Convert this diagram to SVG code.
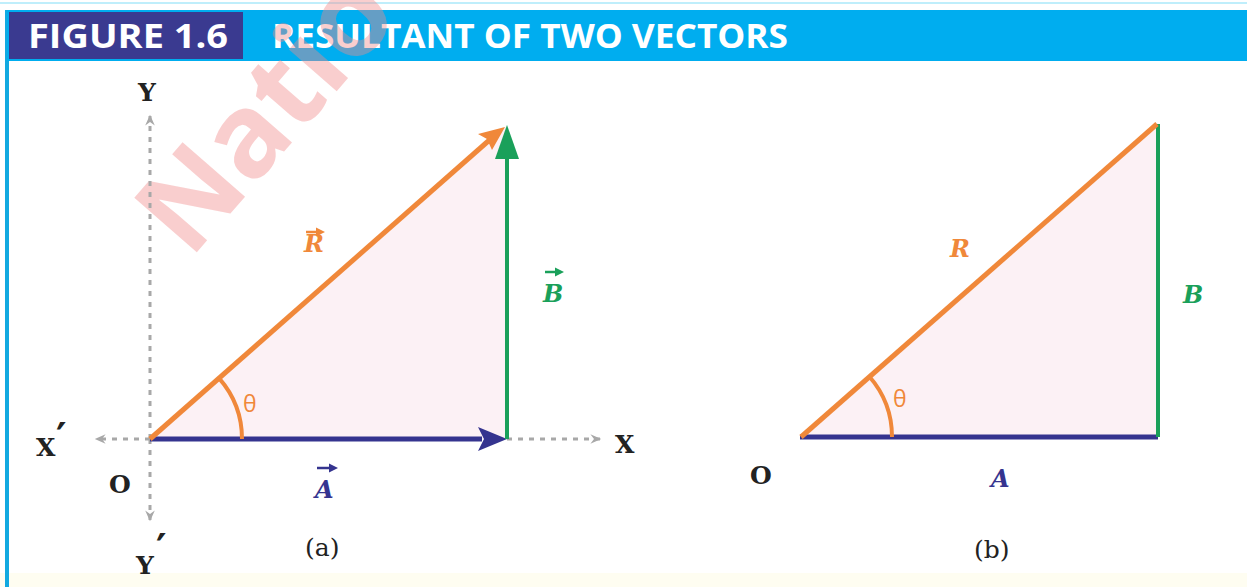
<svg xmlns="http://www.w3.org/2000/svg" width="1247" height="587" viewBox="0 0 1247 587">
<style>
.hdr{font-family:"Open Sans","Liberation Sans",sans-serif;font-weight:bold;fill:#ffffff}
.ax{font-family:"DejaVu Serif","Liberation Serif",serif;font-weight:bold;fill:#222222;font-size:25px}
.pr{font-family:"DejaVu Sans","Liberation Sans",sans-serif;font-weight:bold;fill:#222222;font-size:40px}
.vec{font-family:"DejaVu Serif","Liberation Serif",serif;font-weight:bold;font-style:italic;font-size:24px}
.th{font-family:"Open Sans","Liberation Sans",sans-serif;font-size:23px;fill:#f0883a}
.cap{font-family:"DejaVu Serif","Liberation Serif",serif;font-size:25px;fill:#222222}
.axis{stroke:#a8a8a8;stroke-width:3;stroke-dasharray:5 6;fill:none}
.tri{fill:#fcf1f5;stroke:none}
</style>
<defs>
<marker id="gh" viewBox="0 0 10 10" refX="8" refY="5" markerWidth="4" markerHeight="4" orient="auto">
<path d="M0,1 L9,5 L0,9 L3,5 Z" fill="#a8a8a8"/>
</marker>
</defs>
<rect x="0" y="0" width="1247" height="587" fill="#ffffff"/>
<rect x="0" y="573" width="1247" height="14" fill="#fefdf1"/>
<line x1="0" y1="3" x2="1247" y2="3" stroke="#bfeefb" stroke-width="2"/>
<rect x="5" y="10" width="4" height="577" fill="#12a9e0"/>
<g id="header">
<rect x="7" y="10" width="1240" height="51" fill="#00adef"/>
<rect x="9" y="12" width="234" height="47" fill="#3a3a90"/>
<text class="hdr" x="28" y="48" font-size="34" textLength="200" lengthAdjust="spacingAndGlyphs">FIGURE 1.6</text>
<text class="hdr" x="272" y="48" font-size="34" textLength="516" lengthAdjust="spacingAndGlyphs">RESULTANT OF TWO VECTORS</text>
</g>
<text x="190" y="260" transform="rotate(-49 190 260)" font-family="Open Sans, Liberation Sans, sans-serif" font-weight="bold" font-size="116" fill="#f08a8a" fill-opacity="0.42">Natio</text>
<g id="panel-a">
<polygon class="tri" points="150,439 507,126 507,439"/>
<g id="axes-a">
<line class="axis" x1="150" y1="439" x2="150" y2="116" marker-end="url(#gh)"/>
<line class="axis" x1="150" y1="439" x2="150" y2="520" marker-end="url(#gh)"/>
<line class="axis" x1="150" y1="439" x2="96" y2="439" marker-end="url(#gh)"/>
<line class="axis" x1="507" y1="439" x2="600" y2="439" marker-end="url(#gh)"/>
</g>
<g id="vectors-a">
<line x1="150" y1="439" x2="482" y2="439" stroke="#35348f" stroke-width="5"/>
<path d="M507,439 L478,427 L484,439 L478,451 Z" fill="#35348f"/>
<line x1="507" y1="439" x2="507" y2="150" stroke="#1aa05a" stroke-width="4"/>
<path d="M507,125 L495,159 L519,159 Z" fill="#1aa05a"/>
<line x1="150" y1="439" x2="494" y2="136" stroke="#f0883a" stroke-width="5"/>
<path d="M505,127 L478,134 L487,139 L492,150 Z" fill="#f0883a"/>
<path d="M242,439 A92,92 0 0 0 219.2,378.4" fill="none" stroke="#f0883a" stroke-width="4"/>
</g>
<g id="labels-a">
<text class="ax" x="138" y="101">Y</text>
<text class="ax" x="36" y="456">X</text>
<text class="pr" x="56" y="452">′</text>
<text class="ax" x="109" y="493">O</text>
<text class="ax" x="136" y="574">Y</text>
<text class="pr" x="156" y="563">′</text>
<text class="ax" x="615" y="453">X</text>
<text class="th" x="243" y="412">θ</text>
<text class="cap" x="305" y="556">(a)</text>
<text class="vec" x="304" y="252" fill="#f0883a">R</text>
<path d="M306,232 H318" stroke="#f0883a" stroke-width="2.5"/><path d="M325,232 L316,227.5 L316,236.5 Z" fill="#f0883a"/>
<text class="vec" x="543" y="302" fill="#1aa05a">B</text>
<path d="M545,272 H557" stroke="#1aa05a" stroke-width="2.5"/><path d="M564,272 L555,267.5 L555,276.5 Z" fill="#1aa05a"/>
<text class="vec" x="315" y="498" fill="#35348f">A</text>
<path d="M317,468 H331" stroke="#35348f" stroke-width="2.5"/><path d="M338,468 L329,463.5 L329,472.5 Z" fill="#35348f"/>
</g>
</g>
<g id="panel-b">
<polygon class="tri" points="800,437 1158,123 1158,437"/>
<line x1="800" y1="437" x2="1158" y2="437" stroke="#35348f" stroke-width="5"/>
<line x1="1158" y1="437" x2="1158" y2="124" stroke="#1aa05a" stroke-width="4"/>
<line x1="801" y1="437" x2="1157" y2="124" stroke="#f0883a" stroke-width="5"/>
<path d="M892,437 A92,92 0 0 0 869.1,376.2" fill="none" stroke="#f0883a" stroke-width="4"/>
<text class="th" x="893" y="407">θ</text>
<text class="ax" x="750" y="484">O</text>
<text class="vec" x="950" y="257" fill="#f0883a">R</text>
<text class="vec" x="1183" y="303" fill="#1aa05a">B</text>
<text class="vec" x="991" y="487" fill="#35348f">A</text>
<text class="cap" x="974" y="558">(b)</text>
</g>
</svg>
